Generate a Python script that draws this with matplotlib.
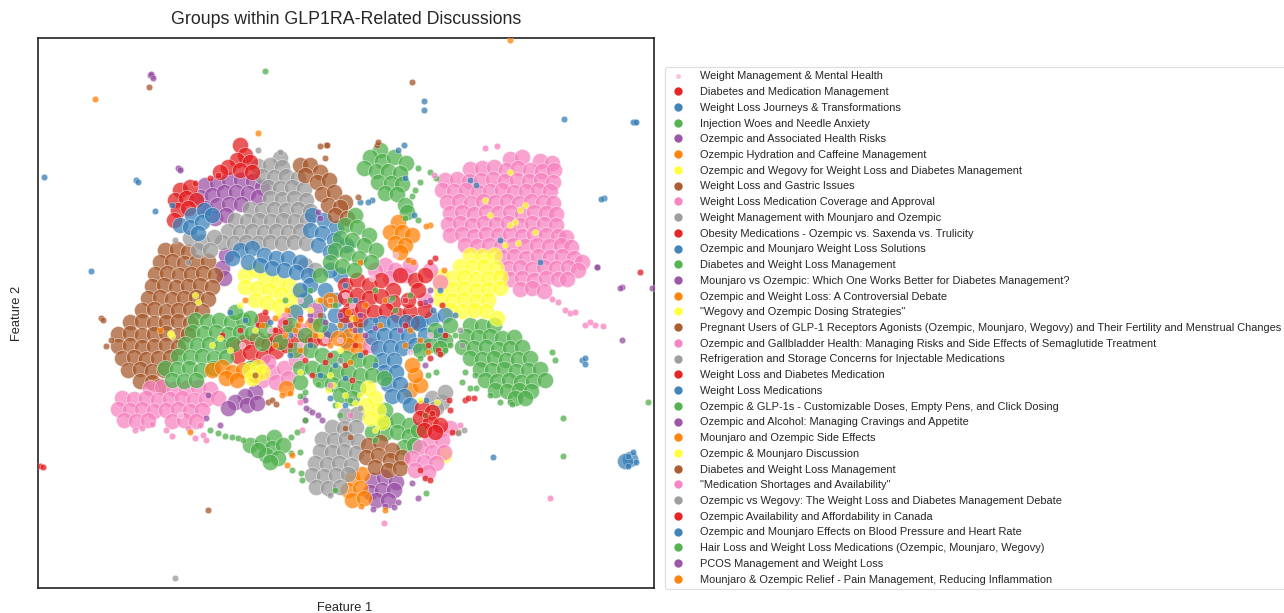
import matplotlib
matplotlib.use("Agg")
import matplotlib.pyplot as plt
from matplotlib.lines import Line2D

plt.rcParams['font.family'] = ['Liberation Sans', 'DejaVu Sans']

RED, BLUE, GREEN, PURPLE, ORANGE = '#e41a1c', '#377eb8', '#4daf4a', '#984ea3', '#ff7f00'
YELLOW, BROWN, PINK, GRAY = '#ffff33', '#a65628', '#f781bf', '#999999'

labels = [
    "Weight Management & Mental Health", "Diabetes and Medication Management",
    "Weight Loss Journeys & Transformations", "Injection Woes and Needle Anxiety",
    "Ozempic and Associated Health Risks", "Ozempic Hydration and Caffeine Management",
    "Ozempic and Wegovy for Weight Loss and Diabetes Management", "Weight Loss and Gastric Issues",
    "Weight Loss Medication Coverage and Approval", "Weight Management with Mounjaro and Ozempic",
    "Obesity Medications - Ozempic vs. Saxenda vs. Trulicity", "Ozempic and Mounjaro Weight Loss Solutions",
    "Diabetes and Weight Loss Management", "Mounjaro vs Ozempic: Which One Works Better for Diabetes Management?",
    "Ozempic and Weight Loss: A Controversial Debate", '"Wegovy and Ozempic Dosing Strategies"',
    "Pregnant Users of GLP-1 Receptors Agonists (Ozempic, Mounjaro, Wegovy) and Their Fertility and Menstrual Changes",
    "Ozempic and Gallbladder Health: Managing Risks and Side Effects of Semaglutide Treatment",
    "Refrigeration and Storage Concerns for Injectable Medications", "Weight Loss and Diabetes Medication",
    "Weight Loss Medications", "Ozempic & GLP-1s - Customizable Doses, Empty Pens, and Click Dosing",
    "Ozempic and Alcohol: Managing Cravings and Appetite", "Mounjaro and Ozempic Side Effects",
    "Ozempic & Mounjaro Discussion", "Diabetes and Weight Loss Management",
    '"Medication Shortages and Availability"', "Ozempic vs Wegovy: The Weight Loss and Diabetes Management Debate",
    "Ozempic Availability and Affordability in Canada", "Ozempic and Mounjaro Effects on Blood Pressure and Heart Rate",
    "Hair Loss and Weight Loss Medications (Ozempic, Mounjaro, Wegovy)", "PCOS Management and Weight Loss",
    "Mounjaro & Ozempic Relief - Pain Management, Reducing Inflammation",
]
colors = ['#f9c0dc', RED, BLUE, GREEN, PURPLE, ORANGE, YELLOW, BROWN, PINK, GRAY,
          RED, BLUE, GREEN, PURPLE, ORANGE, YELLOW, BROWN, PINK, GRAY,
          RED, BLUE, GREEN, PURPLE, ORANGE, YELLOW, BROWN, PINK, GRAY,
          RED, BLUE, GREEN, PURPLE, ORANGE]

# Values (Feature 1, Feature 2). *_dense = areas of packed points.
g0_sparse = [(330,300),(352,305),(372,278),(405,300),(300,300),(270,330),(340,340),(430,335),(180,415),(190,430),(345,295),(395,255),(325,340),(242,345),(410,352),(300,345)]
g1_dense = [(232,345),(244,342),(257,339),(268,344),(238,356),(250,352),(263,356),(276,351),(255,366),(286,345),(298,338),(262,320),(285,325),(275,335),(312,340),(324,338)]
g1_sparse = [(265,312),(285,322),(300,318),(310,340),(275,330),(258,325),(222,335),(330,355),(355,345),(240,330),(305,360),(325,362),(345,365),(365,352),(290,345),(312,375),(352,380)]
g2_dense = [(420,323),(432,318)]
g2_sparse = [(404,145),(398,150),(372,200),(368,202),(360,202),(405,178),(476,185),(470,180),(500,240),(540,262),(414,215),(440,290),(424,101),(424,110),(310,345),(335,365),(360,355),(320,375),(375,365),(345,378),(290,355),(245,320),(230,312)]
g3_dense = [(380,150),(370,157),(382,161),(394,157),(406,163),(364,168),(376,171),(388,171),(400,173),(378,182),(391,183),(402,184),(385,193),(397,194),(405,205),(407,212)]
g3_sparse = [(418,168),(430,172),(436,178),(420,182),(415,190),(412,196),(405,218),(418,220),(265,71),(426,493),(648,402),(563,418),(563,456),(350,300),(375,290),(395,310),(335,305),(410,295),(285,300),(310,290)]
g4_dense = [(205,185),(217,183),(229,180),(241,180),(253,181),(262,187),(200,197),(212,195),(224,192),(236,192),(248,193),(258,197),(205,208),(217,205),(229,204),(241,204),(215,218),(226,215),(226,255),(222,268),(224,278)]
g4_sparse = [(180,169),(178,168),(622,287),(622,340),(597,267),(430,300),(425,302),(320,218),(318,212),(340,315),(365,335),(400,330),(310,315)]
g5_dense = [(398,222),(390,232),(402,232),(412,235),(395,243),(405,245),(400,252)]
g5_sparse = [(408,260),(413,262),(430,225),(258,133),(95,99),(426,226),(444,270),(330,345),(365,305),(350,362),(295,330),(275,345),(385,300),(245,300)]
g6_dense = [(245,275),(255,270),(265,278),(277,282),(289,285),(298,292),(245,287),(257,288),(269,290),(281,294),(293,300),(255,300),(267,303),(279,306),(291,310),(305,302)]
g6_sparse = [(170,334),(172,336),(195,295),(198,302),(318,300),(240,305),(310,310),(278,315),(212,345),(230,350),(220,338),(320,335),(340,350),(300,372),(330,375),(255,330),(352,318)]
g7_dense = [(165,250),(177,249),(188,252),(160,262),(172,261),(184,263),(196,262),(208,261),
            (155,274),(167,273),(179,275),(191,274),(203,273),(215,275),(152,286),(164,285),(176,287),(188,286),(200,285),(212,287),
            (148,298),(160,297),(172,299),(184,298),(196,297),(208,299),(142,310),(154,309),(166,311),(178,310),(190,309),(202,311),
            (130,322),(142,321),(154,323),(166,322),(178,321),(190,323),(118,334),(130,333),(142,335),(154,334),(166,333),(178,335),(188,334),
            (118,346),(130,345),(142,347),(154,346),(166,345),(178,347),(122,358),(134,357),(146,359),(158,358),(170,357),
            (128,370),(140,369),(152,371),(164,370),(140,381),(152,382),(160,386)]
g7_sparse = [(101,318),(103,320),(149,87),(412,82),(208,510),(268,402),(272,400),(276,404),(111,340),(106,346),(326,145),(320,315),(360,325)]
g8_dense = [(510,159),(522,157),(540,161),(552,163),(470,169),(482,168),(494,167),(506,170),(518,168),(530,170),(542,171),(554,170),
            (445,180),(457,179),(469,181),(481,180),(493,179),(505,181),(517,180),(529,181),(541,180),(553,182),
            (442,190),(454,191),(466,190),(478,192),(490,191),(502,190),(514,192),(526,191),(538,190),(550,191),
            (447,202),(459,201),(471,203),(483,201),(495,202),(507,201),(519,203),(531,201),(543,202),(553,203),
            (450,213),(462,212),(474,214),(486,212),(498,213),(510,212),(522,214),(534,212),(546,213),(556,214),
            (448,224),(460,223),(472,225),(484,223),(496,224),(508,223),(520,225),(532,223),(544,224),(556,225),
            (450,235),(462,234),(474,236),(486,234),(498,235),(510,234),(522,236),(534,234),(546,235),(558,236),(566,237),
            (465,245),(477,246),(489,245),(501,246),(513,245),(525,246),(537,245),(549,246),(561,245),(571,247),
            (502,257),(514,256),(526,258),(538,256),(550,257),(562,256),(574,258),(582,262),
            (508,268),(520,267),(532,269),(544,267),(556,268),(568,267),(578,270),(510,279),(522,278),(534,280),(546,278),(558,279),(567,279),
            (520,289),(532,288),(544,291)]
g8_sparse = [(485,148),(497,146),(552,299),(558,302),(565,310),(570,313),(575,312),(585,325),(595,325),(603,326),(590,322),(550,498),(384,523),(434,175)]
g9_dense = [(280,158),(258,166),(270,165),(282,167),(262,176),(274,177),(286,176),(298,178),(268,187),(280,188),(292,187),(304,189),
            (270,198),(282,199),(294,198),(306,200),(250,209),(262,210),(274,209),(286,210),(298,209),(310,211),
            (235,220),(247,221),(259,220),(271,221),(283,220),(295,221),(307,220),(228,231),(240,232),(252,231),(264,232),(276,231),(288,232),(300,231),
            (222,242),(234,243),(246,242),(258,243),(270,242),(282,243),(294,242),(306,243),(190,238),(202,242),(214,237),(198,250),(210,250),(305,265),(315,270)]
g9_sparse = [(258,150),(280,152),(188,262),(175,578),(460,330),(462,345),(175,240),(390,300),(340,360)]
g10_dense = [(180,190),(190,187),(175,200),(186,198),(196,200),(178,210),(188,208),(174,220),(240,145),(245,155),(237,160),(250,162),(228,167),(240,170),(252,172),(220,172)]
g10_sparse = [(210,178),(218,175),(195,183),(640,272),(40,466),(43,467),(432,413),(405,325),(430,358)]
g11_dense = [(180,225),(192,215),(204,210),(190,227),(202,222),(212,215),(198,233),(240,250),(252,248),(264,255),(276,258),(288,258),(300,262),
             (248,262),(260,265),(272,268),(284,270),(296,272),(308,275),(232,258),(312,215),(324,220),(336,228),(310,230),(322,233),(334,240),(346,245),(318,245),(330,252),
             (310,285),(325,290),(320,305),(335,315),(305,300),(318,318),(345,325),(340,275),(330,270),(300,290),(295,312),(335,300),(345,340),(330,330)]
g11_sparse = [(44,177),(136,180),(138,182),(155,211),(91,271),(564,119),(635,122),(172,205),(290,335),(270,322)]
g12_dense = [(470,325),(482,326),(494,325),(466,336),(478,337),(490,336),(502,338),(514,337),(462,347),(474,348),(486,347),(498,349),(510,348),(522,347),
             (470,358),(482,359),(494,358),(506,360),(518,359),(530,358),(480,369),(492,370),(504,369),(516,371),(528,370),(540,369),
             (485,380),(497,381),(509,380),(521,382),(533,381),(545,380),(495,390),(507,391),(519,390),(531,391),(515,398),(525,398)]
g12_sparse = [(455,335),(450,345),(445,350),(552,352),(555,360),(510,402),(475,375),(465,372),(462,382),(470,388),(476,388),(490,395),(500,402),(512,404)]
g13_dense = [(372,480),(384,477),(396,482),(370,492),(382,490),(394,490),(376,500),(388,500)]
g13_sparse = [(152,76),(150,75),(412,483),(418,498),(398,502),(394,507),(373,509),(385,506),(652,288),(355,330),(325,322)]
g14_dense = [(352,478),(362,474),(348,490),(360,488),(352,500),(364,498),(350,335),(360,340),(348,345),(358,350),(410,390),(420,385),(415,375),(412,365),(330,300),(312,325),(338,338),(355,325)]
g14_sparse = [(510,40),(385,510),(361,506),(330,300),(355,318),(300,320),(315,335),(285,335),(410,330),(360,262),(340,325)]
g15_dense = [(470,255),(482,256),(494,255),(460,266),(472,267),(484,266),(496,268),(440,277),(452,278),(464,277),(476,279),(488,278),(500,277),
             (440,288),(452,289),(464,288),(476,290),(488,289),(500,288),(440,299),(452,300),(464,299),(476,301),(488,300),(450,310),(462,311),(474,310),(486,311),(497,318)]
g15_sparse = [(485,200),(490,215),(510,225),(520,210),(515,222),(525,205),(510,172),(535,232),(505,245),(518,243)]
g16_dense = [(300,165),(310,165),(320,172),(305,175),(317,182),(329,180),(322,194),(334,192),(345,202),(328,205),(340,207),(335,215),(347,218)]
g16_sparse = [(325,158),(327,145),(377,145),(378,142),(320,146),(358,197)]
g17_dense = [(150,388),(162,387),(174,389),(186,388),(198,387),(210,389),(122,398),(134,399),(146,398),(158,400),(170,399),(182,398),(194,400),(206,399),(218,398),
             (118,409),(130,410),(142,409),(154,411),(166,410),(178,409),(190,411),(202,410),(124,420),(136,421),(148,420),(172,421),(184,420),(196,421),
             (262,380),(272,372),(284,368),(296,360),(276,382),(288,378),(268,362),(300,350),(385,265),(395,270),(375,270),(405,275),(390,278),(410,265),(425,300),(440,282),(430,270),(300,330),(285,320),(315,310),(370,345)]
g17_sparse = [(166,430),(172,436),(200,425),(203,435),(188,428),(195,438),(206,440),(152,424),(142,428),(135,430)]
g18_dense = [(345,415),(357,414),(332,427),(344,428),(356,427),(322,439),(334,440),(346,439),(358,441),(320,451),(332,452),(344,451),(356,453),
             (315,463),(327,464),(339,463),(351,465),(312,475),(324,476),(336,475),(348,474),(316,487),(328,488),(340,487)]
g18_sparse = [(303,396),(309,410),(352,400),(360,408),(330,495)]
g19_dense = [(345,285),(357,280),(369,285),(381,280),(393,290),(345,297),(357,295),(369,298),(381,296),(393,302),(350,310),(362,308),(374,312),(386,310),(398,315),(410,312),(415,280),(425,275),(418,290),(345,315),(360,320),(400,275),(408,300),(425,310),(412,322)]
g19_sparse = [(438,350),(440,354),(445,335),(435,258),(430,262),(405,300),(442,305),(420,303),(428,345)]
g20_dense = [(370,325),(382,323),(394,322),(406,322),(418,323),(372,337),(384,335),(396,335),(408,336),(378,348),(390,347),(402,348),(382,360),(394,360),(384,372),(396,372),(388,384),(400,384),(392,396),(404,396),(410,405),(445,315),(425,335),(415,345),(440,335)]
g20_sparse = [(493,457),(433,310),(455,315),(440,330),(360,330),(345,405),(330,398),(426,400)]
g21_dense = [(195,320),(207,321),(219,320),(231,322),(243,320),(192,332),(204,333),(216,332),(228,334),(240,332),(252,333),
             (185,344),(197,345),(209,344),(221,346),(233,344),(250,368),(262,343),(178,356),(190,357),(202,356),(214,358),(226,357),(265,330),
             (165,368),(177,369),(189,368),(201,370),(213,368),(172,380),(184,381),(196,380),(235,312),(250,318),(280,342),(295,350),
             (310,350),(322,355),(334,358),(346,358),(358,360),(370,362),(300,368),(312,368),(324,370),(336,372),(348,372),(360,375),(372,375),(384,378),(320,380),(332,384),(345,385),(358,388),(300,382),(340,395),(352,398),
             (355,215),(345,225),(357,227),(369,235),(340,238),(352,240),(364,245),(376,250),(335,250),(347,253),(359,258),(371,262),(330,262),(342,266),(354,270),(320,275),
             (385,422),(397,420),(409,425),(385,433),(397,432),(409,436),(418,430),(404,447),(414,445),(430,345),(445,340),(450,325),(435,330),(420,350),(305,335),(320,325),(290,325),(372,432),(385,410),(440,348)]
g21_sparse = [(350,400),(375,440),(335,405),(340,415),(300,396),(318,384),(305,392),(392,298),(420,358),(428,375),(436,372)]
g22_dense = [(255,392),(245,396),(235,402),(247,405),(257,403),(228,408)]
g22_sparse = [(306,408),(312,412),(318,415),(322,420),(305,420),(220,425),(206,418),(305,400)]
g23_dense = [(212,370),(222,367),(232,372),(243,370),(226,378),(237,380),(255,375),(286,388)]
g23_sparse = [(290,393),(282,395),(190,432),(287,465),(300,350),(275,318)]
g24_dense = [(250,370),(258,367),(252,378),(262,372),(368,388),(375,398),(366,405),(378,410),(370,418),(382,422),(444,455)]
g24_sparse = [(171,333),(328,390),(333,385),(345,395),(338,405),(355,403),(375,430),(420,400),(437,402),(360,395)]
g25_dense = [(368,445),(380,442),(392,450),(366,457),(378,455),(390,460),(402,457),(375,467),(388,470),(400,468)]
g25_sparse = [(345,428),(350,437),(425,415),(458,432),(255,375)]
g26_dense = [(440,430),(450,428),(430,440),(442,440),(420,447),(432,452),(444,452),(412,458),(424,462),(436,463),(415,470),(428,472)]
g26_sparse = [(330,385),(350,415),(300,402),(302,430),(460,425)]
g27_dense = [(432,398),(442,402),(436,408),(445,392)]
g27_sparse = [(458,433),(464,430)]
g28_dense = [(422,408),(432,412),(420,418),(430,422),(440,425),(424,430),(435,432)]
g28_sparse = [(425,478),(430,480),(420,470),(449,400),(452,432),(450,410),(465,400),(468,398),(474,398)]
g29_dense = [(630,459),(625,461)]
g29_sparse = [(582,360),(585,358),(585,364),(604,198),(601,199),(633,122),(636,122),(628,466),(633,452),(628,456),(636,462),(345,285),(355,300),(375,320)]
g30_dense = [(250,445),(262,442),(274,437),(272,448),(283,445),(266,455),(278,458),(270,462),(258,450)]
g30_sparse = [(210,430),(218,433),(225,436),(232,437),(238,438),(243,440),(291,437),(297,432),(305,420),(291,453),(300,452),(292,470),(301,473),(335,490),(302,480)]
g31_dense = []
g31_sparse = [(151,74),(153,78),(208,395),(360,315),(375,328),(310,320),(425,365),(180,170),(350,325),(430,290),(597,267),(620,288)]
g32_dense = []
g32_sparse = [(262,325),(320,300),(348,312),(380,325),(420,340),(405,345),(428,352),(298,325),(287,310),(292,455),(160,330)]

dense_groups = [[], g1_dense, g2_dense, g3_dense, g4_dense, g5_dense, g6_dense, g7_dense, g8_dense, g9_dense, g10_dense,
                g11_dense, g12_dense, g13_dense, g14_dense, g15_dense, g16_dense, g17_dense, g18_dense, g19_dense, g20_dense,
                g21_dense, g22_dense, g23_dense, g24_dense, g25_dense, g26_dense, g27_dense, g28_dense, g29_dense, g30_dense, g31_dense, g32_dense]
sparse_groups = [g0_sparse, g1_sparse, g2_sparse, g3_sparse, g4_sparse, g5_sparse, g6_sparse, g7_sparse, g8_sparse, g9_sparse, g10_sparse,
                 g11_sparse, g12_sparse, g13_sparse, g14_sparse, g15_sparse, g16_sparse, g17_sparse, g18_sparse, g19_sparse, g20_sparse,
                 g21_sparse, g22_sparse, g23_sparse, g24_sparse, g25_sparse, g26_sparse, g27_sparse, g28_sparse, g29_sparse, g30_sparse, g31_sparse, g32_sparse]

fig = plt.figure(figsize=(12.84, 6.13), dpi=100)
ax = fig.add_axes([38/1284, 1-588/613, 616/1284, 550/613])

for color, dense in zip(colors, dense_groups):
    if dense:
        ax.scatter(*zip(*dense), s=135, color=color, alpha=0.72, edgecolors='white', linewidths=0.4, zorder=2)
for color, sparse in zip(colors, sparse_groups):
    ax.scatter(*zip(*sparse), s=22, color=color, alpha=0.75, edgecolors='white', linewidths=0.3, zorder=3)

ax.set_xlim(38, 654)
ax.set_ylim(588, 38)
ax.set_xticks([])
ax.set_yticks([])
for s in ax.spines.values():
    s.set_linewidth(1.2)
    s.set_color('#222222')

fig.text(346/1284, 1-20/613, "Groups within GLP1RA-Related Discussions", ha='center', va='center', fontsize=12.75, color='#262626')
fig.text(345/1284, 1-608/613, "Feature 1", ha='center', va='center', fontsize=9.3, color='#262626')
fig.text(17/1284, 1-313/613, "Feature 2", ha='center', va='center', rotation=90, fontsize=9.3, color='#262626')

handles = [Line2D([], [], linestyle='none', marker='o', markersize=(3.5 if i == 0 else 6),
                  markerfacecolor=c, markeredgecolor='none', alpha=0.95) for i, c in enumerate(colors)]
leg = fig.legend(handles, labels, loc='upper left', bbox_to_anchor=(665/1284, 1-67/613), bbox_transform=fig.transFigure,
                 fontsize=7.9, frameon=True, labelspacing=0.522, borderaxespad=0, borderpad=0.4,
                 handletextpad=1.2, handlelength=1.6, labelcolor='#262626', fancybox=True)
leg.get_frame().set_edgecolor('#d8d8d8')
leg.get_frame().set_linewidth(0.9)

fig.savefig("out.png", dpi=100)
